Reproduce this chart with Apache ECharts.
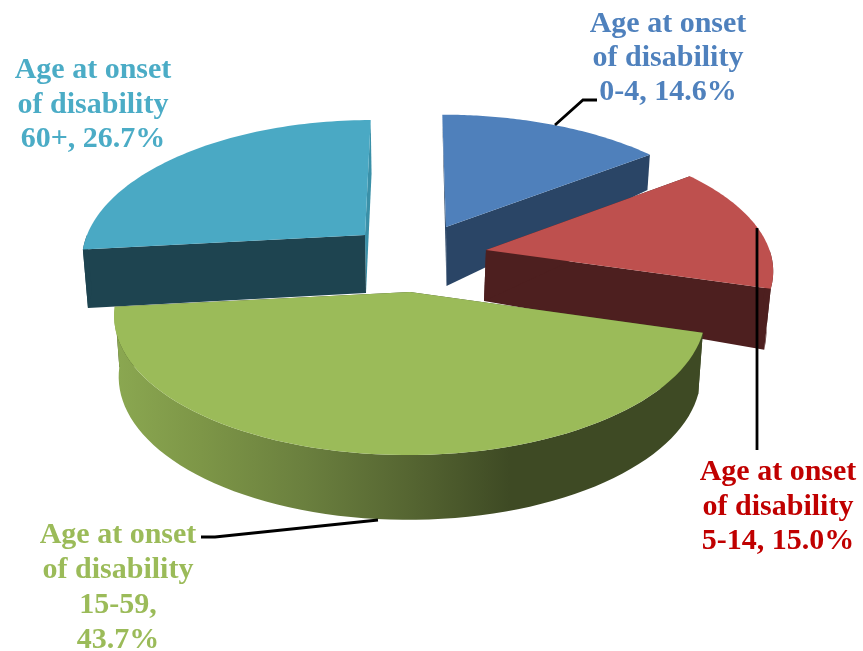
<!DOCTYPE html>
<html>
<head>
<meta charset="utf-8">
<style>html,body{margin:0;padding:0;background:#fff}#c{width:863px;height:651px}</style>
<script src="https://cdn.jsdelivr.net/npm/echarts@6/dist/echarts.min.js"></script>
</head>
<body>
<div id="c"></div>
<script>
// ---- data ----
var categories = ['0-4', '5-14', '15-59', '60+'];
var shares = [14.6, 15.0, 43.7, 26.7];
var labelPrefix = 'Age at onset\nof disability\n';

// ---- styling ----
var topColors  = ['#4f80bb', '#be504e', '#9bbb59', '#4aa9c4'];
var startCutColors = ['#2a4566', '#4d1f1f', '#3e4a24', '#1e4450'];
var endCutColors = ['#2a4566', '#4d1f1f', '#3e4a24', '#3a90a8'];
var rimColors = ['#2a4566', '#4d1f1f', '#3e4a24', '#1e4450'];
var labelColors = ['#4f81bd', '#c00000', '#9bbb59', '#4bacc6'];
var drawDepth = [1, 2, 4, 3];

// ---- exploded 3D layout: top and bottom ellipse of every slice ----
var sliceLayout = [
  { vx: 420, ax: 446, ay: 227, rx: 286, ry: 131, bx: 446.5, by: 286, brx: 282, bry: 174, k: 0.166 },
  { vx: 420, ax: 486, ay: 250, rx: 283.5, ry: 131, bx: 484, by: 301, brx: 279, bry: 165, k: 0.13 },
  { vx: 420, ax: 410, ay: 292, rx: 291.5, ry: 136, bx: 410, by: 352, brx: 287, bry: 140, k: 0.166 },
  { vx: 405, ax: 365, ay: 235, rx: 278, ry: 134, bx: 366, by: 293, brx: 274, bry: 139, k: 0.166 }
];
var labelLayout = [
  { x: 668, y: 58, lh: 34 },
  { x: 778, y: 507, lh: 34.5 },
  { x: 118, y: 588, lh: 35 },
  { x: 93, y: 105, lh: 34.5 }
];
var leaderLines = [
  [[555, 125], [583, 100], [597, 100]],
  [[757, 228], [757, 450]],
  [[378, 520], [215, 537], [201, 537]],
  null
];

function labelText(i) {
  if (categories[i] === '15-59') return labelPrefix + categories[i] + ',\n' + shares[i].toFixed(1) + '%';
  return labelPrefix + categories[i] + ', ' + shares[i].toFixed(1) + '%';
}
function project(L, bottom, theta) {
  var u = Math.sin(theta), v = -Math.cos(theta);
  var s = 1 / (1 - L.k * v);
  var ax = bottom ? L.bx : L.ax, ay = bottom ? L.by : L.ay;
  var rx = bottom ? L.brx : L.rx, ry = bottom ? L.bry : L.ry;
  return [L.vx + (ax - L.vx + rx * u) * s, ay + ry * v * s];
}
function arc(L, bottom, a0, a1) {
  var pts = [], n = 72;
  for (var i = 0; i <= n; i++) pts.push(project(L, bottom, a0 + (a1 - a0) * i / n));
  return pts;
}
var total = shares.reduce(function (a, b) { return a + b; }, 0);

function renderSlice(params, api) {
  var i = params.dataIndex;
  var L = sliceLayout[i];
  var before = 0;
  for (var j = 0; j < i; j++) before += shares[j];
  var a0 = before / total * 2 * Math.PI;
  var a1 = (before + api.value(0)) / total * 2 * Math.PI;
  var z = drawDepth[i] * 10;
  var children = [];
  function poly(points, fill, dz) {
    children.push({ type: 'polygon', z2: z + dz, shape: { points: points },
      style: { fill: fill, stroke: null } });
  }
  var apexT = [L.ax, L.ay], apexB = [L.bx, L.by];
  // radial cut faces
  poly([apexT, project(L, false, a1), project(L, true, a1), apexB], endCutColors[i], 0);
  poly([apexT, project(L, false, a0), project(L, true, a0), apexB], startCutColors[i], 1);
  // outer rim, only the part turned to the viewer
  var r0 = Math.max(a0, Math.PI / 2), r1 = Math.min(a1, 1.5 * Math.PI);
  if (r1 > r0) {
    var wallFill = rimColors[i];
    if (categories[i] === '15-59') {
      wallFill = new echarts.graphic.LinearGradient(113, 0, 701, 0, [
        { offset: 0, color: '#8ba851' },
        { offset: 0.15, color: '#7d9647' },
        { offset: 0.33, color: '#6a7f3e' },
        { offset: 0.5, color: '#566632' },
        { offset: 0.675, color: '#3e4a24' },
        { offset: 1, color: '#3e4a24' }
      ], true);
    }
    poly(arc(L, false, r0, r1).concat(arc(L, true, r1, r0)), wallFill, 2);
  }
  // top face
  poly([apexT].concat(arc(L, false, a0, a1)), topColors[i], 3);
  // leader line
  if (leaderLines[i]) {
    children.push({ type: 'polyline', z2: 100, shape: { points: leaderLines[i] },
      style: { fill: null, stroke: '#000', lineWidth: 2.8 } });
  }
  // label
  var T = labelLayout[i];
  children.push({ type: 'text', z2: 101, x: T.x, y: T.y, style: {
    text: labelText(i), fill: labelColors[i], align: 'center', verticalAlign: 'middle',
    font: 'bold 30px "Liberation Serif"', lineHeight: T.lh
  } });
  return { type: 'group', children: children };
}

var chart = echarts.init(document.getElementById('c'), null, { renderer: 'canvas' });
chart.setOption({
  backgroundColor: '#fff',
  animation: false,
  series: [{
    type: 'custom',
    coordinateSystem: 'none',
    silent: true,
    renderItem: renderSlice,
    data: shares.map(function (v, i) { return { name: categories[i], value: [v] }; })
  }]
});
</script>
</body>
</html>
